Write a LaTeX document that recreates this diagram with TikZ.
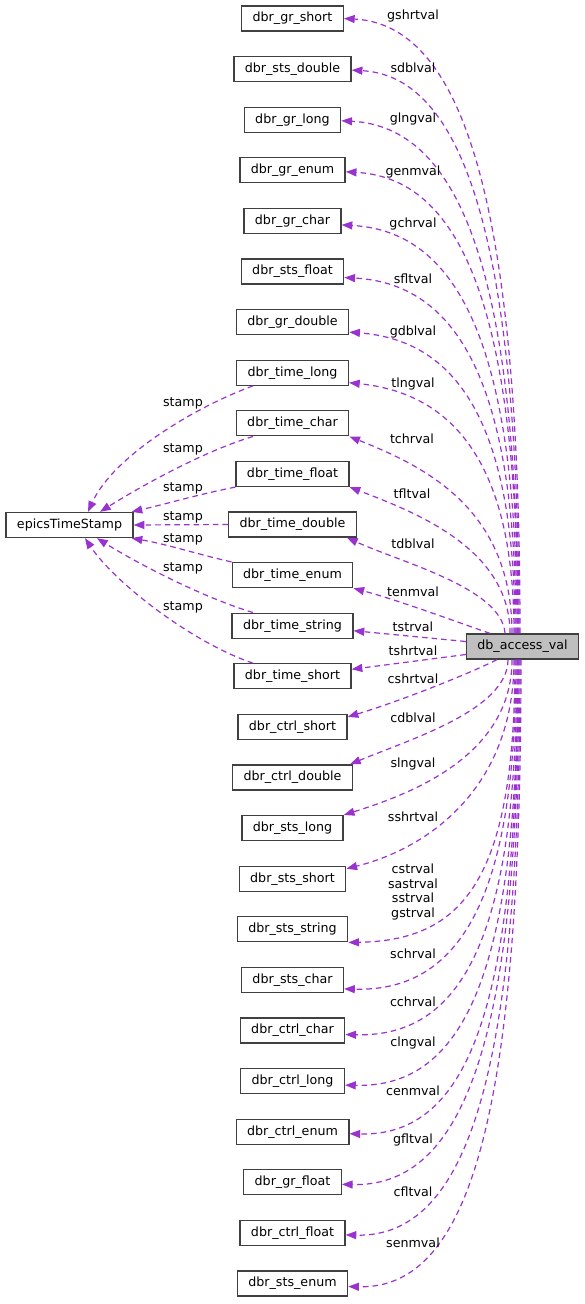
\documentclass[tikz,border=0pt]{standalone}
\usepackage{fontspec}
\setmainfont{DejaVu Sans}
\usetikzlibrary{positioning,calc,arrows.meta}
\definecolor{usecol}{HTML}{9A32CD}
\definecolor{boxline}{HTML}{404040}
\definecolor{boxfill}{HTML}{BFBFBF}
\tikzset{node distance=37.95pt,
  cls/.style={draw=boxline, line width=1pt, inner xsep=8.2pt, minimum height=18.75pt,
    font=\fontsize{9.5}{10.9}\selectfont},
  lbl/.style={inner sep=0pt, align=center, font=\fontsize{9.5}{10.9}\selectfont},
  useedge/.style={draw=usecol, line width=0.9pt, dash pattern=on 4.2pt off 3pt,
    -{Triangle[length=8pt,width=6pt]}}}

\begin{document}
\begin{tikzpicture}[x=0.75pt,y=-0.75pt]
  \useasboundingbox (0,0) rectangle (585,1304);

  \node[cls] (ets) at (69.5,525) {epicsTimeStamp};
  \node[cls, fill=boxfill] (dav) at (522.5,646.5) {db\_access\_val};

  \node[cls] (gs) at (292.5,18.5) {dbr\_gr\_short};
  \node[cls] (sd) [below of=gs] {dbr\_sts\_double};
  \node[cls] (gl) [below of=sd] {dbr\_gr\_long};
  \node[cls] (ge) [below of=gl] {dbr\_gr\_enum};
  \node[cls] (gc) [below of=ge] {dbr\_gr\_char};
  \node[cls] (sf) [below of=gc] {dbr\_sts\_float};
  \node[cls] (gd) [below of=sf] {dbr\_gr\_double};
  \node[cls] (tl) [below of=gd] {dbr\_time\_long};
  \node[cls] (tc) [below of=tl] {dbr\_time\_char};
  \node[cls] (tf) [below of=tc] {dbr\_time\_float};
  \node[cls] (td) [below of=tf] {dbr\_time\_double};
  \node[cls] (te) [below of=td] {dbr\_time\_enum};
  \node[cls] (ts) [below of=te] {dbr\_time\_string};
  \node[cls] (tsh) [below of=ts] {dbr\_time\_short};
  \node[cls] (cs) [below of=tsh] {dbr\_ctrl\_short};
  \node[cls] (cd) [below of=cs] {dbr\_ctrl\_double};
  \node[cls] (sl) [below of=cd] {dbr\_sts\_long};
  \node[cls] (ss) [below of=sl] {dbr\_sts\_short};
  \node[cls] (sst) [below of=ss] {dbr\_sts\_string};
  \node[cls] (sc) [below of=sst] {dbr\_sts\_char};
  \node[cls] (cc) [below of=sc] {dbr\_ctrl\_char};
  \node[cls] (cl) [below of=cc] {dbr\_ctrl\_long};
  \node[cls] (ce) [below of=cl] {dbr\_ctrl\_enum};
  \node[cls] (gf) [below of=ce] {dbr\_gr\_float};
  \node[cls] (cf) [below of=gf] {dbr\_ctrl\_float};
  \node[cls] (se) [below of=cf] {dbr\_sts\_enum};

  % time stamps
  \draw[useedge] ($(tl.south)+(-39.5,0)$) .. controls +(-60,22) and +(25,-55) .. ($(ets.north)+(18.5,0)$)
    node[lbl] (stl) at (183,403) {stamp};
  \draw[useedge] ($(tc.south)+(-39.5,0)$) .. controls +(-50,15) and +(40,-25) .. ($(ets.north)+(30.5,0)$)
    node[lbl] (stc) at (183,449) {stamp};
  \draw[useedge] (tf.south west) .. controls +(-40,8) and +(35,-8) .. ($(ets.north east)+(-2,0)$)
    node[lbl] (stf) at (183,488) {stamp};
  \draw[useedge] (td.west) -- (ets.east)
    node[lbl] (std) at (183,517) {stamp};
  \draw[useedge] (te.north west) .. controls +(-35,-8) and +(35,6) .. ($(ets.south east)+(-2,0)$)
    node[lbl] (ste) at (183,539) {stamp};
  \draw[useedge] ($(ts.north)+(-39.5,0)$) .. controls +(-50,-15) and +(40,25) .. ($(ets.south)+(27.5,0)$)
    node[lbl] (sts) at (183,568) {stamp};
  \draw[useedge] ($(tsh.north)+(-39.5,0)$) .. controls +(-60,-20) and +(30,45) .. ($(ets.south)+(15.5,0)$)
    node[lbl] (stsh) at (183,607) {stamp};

  % members above
  \draw[useedge] ($(dav.north)+(-2.5,0)$) .. controls +(0,-445) and +(115,6) .. (gs.east)
    node[lbl] (lgs) at (413,16) {gshrtval};
  \draw[useedge] ($(dav.north)+(-3.5,0)$) .. controls +(0,-405) and +(108,6) .. ($(sd.east)+(0,1)$)
    node[lbl] (lsd) at (413,68) {sdblval};
  \draw[useedge] ($(dav.north)+(-4.5,0)$) .. controls +(0,-370) and +(115,6) .. ($(gl.east)+(0,1)$)
    node[lbl] (lgl) at (413,119) {glngval};
  \draw[useedge] ($(dav.north)+(-4.5,0)$) .. controls +(0,-333) and +(112,6) .. ($(ge.east)+(0,1.5)$)
    node[lbl] (lge) at (413,172) {genmval};
  \draw[useedge] ($(dav.north)+(-5.5,0)$) .. controls +(0,-295) and +(113,6) .. ($(gc.east)+(0,4)$)
    node[lbl] (lgc) at (413,224) {gchrval};
  \draw[useedge] ($(dav.north)+(-6.5,0)$) .. controls +(0,-256) and +(110,6) .. ($(sf.east)+(0,6)$)
    node[lbl] (lsf) at (413,279) {sfltval};
  \draw[useedge] ($(dav.north)+(-7.5,0)$) .. controls +(0,-215) and +(105,8) .. ($(gd.east)+(0,10)$)
    node[lbl] (lgd) at (413,332) {gdblval};
  \draw[useedge] ($(dav.north)+(-8.5,0)$) .. controls +(0,-175) and +(100,10) .. ($(tl.east)+(0,10)$)
    node[lbl] (ltl) at (413,384) {tlngval};
  \draw[useedge] ($(dav.north)+(-10.5,0)$) .. controls +(0,-125) and +(75,30) .. (tc.south east)
    node[lbl] (ltc) at (412,439) {tchrval};
  \draw[useedge] ($(dav.north)+(-12.5,0)$) .. controls +(0,-85) and +(65,25) .. (tf.south east)
    node[lbl] (ltf) at (412,494) {tfltval};
  \draw[useedge] ($(dav.north)+(-17.5,0)$) .. controls +(-3,-45) and +(55,25) .. ($(td.south east)+(-10,0)$)
    node[lbl] (ltd) at (413,544) {tdblval};
  \draw[useedge] ($(dav.north)+(-32.5,0)$) .. controls +(-35,-12) and +(45,12) .. (te.south east)
    node[lbl] (lte) at (413,592) {tenmval};
  \draw[useedge] ($(dav.west)+(0,-5)$) -- ($(ts.east)+(0,5)$)
    node[lbl] (lts) at (413,627) {tstrval};
  \draw[useedge] ($(dav.west)+(0,8)$) -- ($(tsh.east)+(0,-7)$)
    node[lbl] (ltsh) at (413,651) {tshrtval};

  % members below
  \draw[useedge] ($(dav.south)+(-25.5,0)$) .. controls +(-30,15) and +(50,-15) .. ($(cs.east)+(0,-10)$)
    node[lbl] (lcs) at (413,679) {cshrtval};
  \draw[useedge] ($(dav.south)+(-14.5,0)$) .. controls +(0,50) and +(60,-25) .. ($(cd.north east)+(-3,0)$)
    node[lbl] (lcd) at (413,718) {cdblval};
  \draw[useedge] ($(dav.south)+(-10.5,0)$) .. controls +(0,95) and +(70,-22) .. (sl.north east)
    node[lbl] (lsl) at (413,764) {slngval};
  \draw[useedge] ($(dav.south)+(-8.5,0)$) .. controls +(0,130) and +(80,-20) .. ($(ss.east)+(0,-10)$)
    node[lbl] (lss) at (413,817) {sshrtval};
  \draw[useedge] ($(dav.south)+(-7.5,0)$) .. controls +(0,220) and +(115,-2) .. (sst.south east)
    node[lbl] (lsst) at (413,892) {cstrval\\sastrval\\sstrval\\gstrval};
  \draw[useedge] ($(dav.south)+(-6.5,0)$) .. controls +(0,240) and +(115,3) .. ($(sc.east)+(0,9)$)
    node[lbl] (lsc) at (413,954) {schrval};
  \draw[useedge] ($(dav.south)+(-5.5,0)$) .. controls +(0,275) and +(118,3) .. ($(cc.east)+(0,4)$)
    node[lbl] (lcc) at (413,1002) {cchrval};
  \draw[useedge] ($(dav.south)+(-4.5,0)$) .. controls +(0,310) and +(120,3) .. ($(cl.east)+(0,4)$)
    node[lbl] (lcl) at (413,1043) {clngval};
  \draw[useedge] ($(dav.south)+(-4.5,0)$) .. controls +(0,345) and +(120,3) .. ($(ce.east)+(0,2)$)
    node[lbl] (lce) at (413,1091) {cenmval};
  \draw[useedge] ($(dav.south)+(-3.5,0)$) .. controls +(0,380) and +(122,3) .. ($(gf.east)+(0,2)$)
    node[lbl] (lgf) at (413,1140) {gfltval};
  \draw[useedge] ($(dav.south)+(-2.5,0)$) .. controls +(0,415) and +(122,3) .. ($(cf.east)+(0,2)$)
    node[lbl] (lcf) at (413,1192) {cfltval};
  \draw[useedge] ($(dav.south)+(-1.5,0)$) .. controls +(0,455) and +(122,3) .. ($(se.east)+(0,3)$)
    node[lbl] (lse) at (413,1243) {senmval};

\end{tikzpicture}
\end{document}
